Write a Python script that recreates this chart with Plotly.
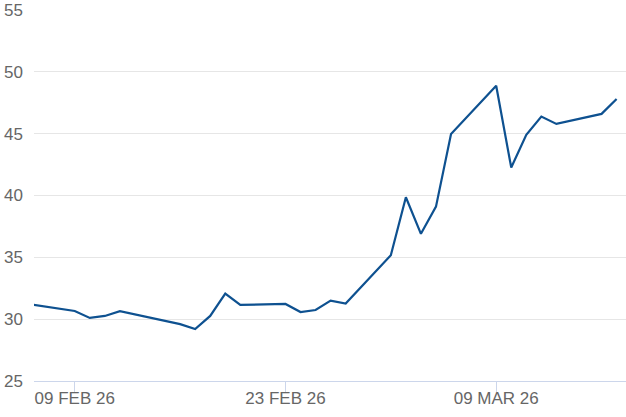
import plotly.graph_objects as go

dates = ["2026-02-06", "2026-02-09", "2026-02-10", "2026-02-11", "2026-02-12",
         "2026-02-16", "2026-02-17", "2026-02-18", "2026-02-19", "2026-02-20",
         "2026-02-23", "2026-02-24", "2026-02-25", "2026-02-26", "2026-02-27",
         "2026-03-02", "2026-03-03", "2026-03-04", "2026-03-05", "2026-03-06",
         "2026-03-09", "2026-03-10", "2026-03-11", "2026-03-12", "2026-03-13",
         "2026-03-16", "2026-03-17"]
values = [31.2, 30.66, 30.1, 30.26, 30.64,
          29.6, 29.2, 30.26, 32.07, 31.15,
          31.23, 30.58, 30.74, 31.5, 31.26,
          35.17, 39.86, 36.9, 39.1, 44.98,
          48.87, 42.26, 44.9, 46.38, 45.79,
          46.6, 47.8]

tick_dates = ["2026-02-09", "2026-02-23", "2026-03-09"]
tick_labels = ["09 FEB 26", "23 FEB 26", "09 MAR 26"]
y_ticks = [25, 30, 35, 40, 45, 50, 55]

fig = go.Figure()
fig.add_trace(go.Scatter(x=dates, y=values, mode="lines",
                         line=dict(color="#0e5190", width=2.2),
                         hoverinfo="skip", showlegend=False, cliponaxis=True))

fig.update_layout(
    width=626, height=417,
    margin=dict(l=34, r=0, t=10, b=36, autoexpand=False),
    paper_bgcolor="white", plot_bgcolor="white",
    font=dict(family="Liberation Sans, Arial, sans-serif", size=17, color="#666666"),
)
fig.update_xaxes(
    type="date",
    range=["2026-02-06 07:00", "2026-03-17 15:00"],
    tickvals=tick_dates, ticktext=tick_labels,
    showgrid=False, zeroline=False,
    showline=True, linecolor="#ccd6eb", linewidth=1,
    ticks="outside", ticklen=10, tickcolor="#ccd6eb", tickwidth=1,
    ticklabelstandoff=-8, automargin=False,
)
fig.update_yaxes(
    range=[25, 55], tickvals=y_ticks,
    showgrid=True, gridcolor="#e6e6e6", gridwidth=1,
    zeroline=False, showline=False, ticks="",
    ticklabelstandoff=10, automargin=False,
)

fig.write_html("out.html", config={"displayModeBar": False},
               post_script="document.body.style.margin='0';")
